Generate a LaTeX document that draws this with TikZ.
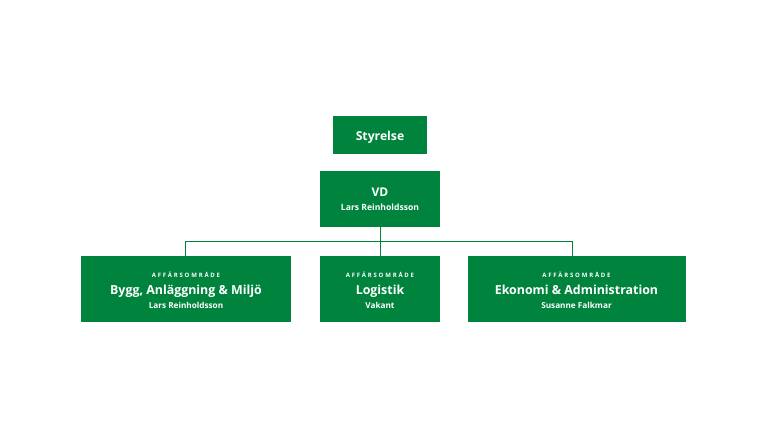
\documentclass[tikz,border=0pt]{standalone}
\usepackage{fontspec}
\setmainfont{Open Sans}
\definecolor{orggreen}{HTML}{00843D}
\begin{document}
\begin{tikzpicture}[x=1pt,y=-1pt,
  box/.style={fill=orggreen,draw=none,inner sep=0pt},
  txt/.style={anchor=base,inner sep=0pt,text=white,font=\bfseries},
  conn/.style={draw=orggreen,line width=0.9pt}]
\useasboundingbox[fill=white] (0,0) rectangle (768,432);
% boxes
\node[box,minimum width=94pt,minimum height=38pt] (sty) at (380,135) {};
\node[box,minimum width=120pt,minimum height=56pt] (vd) at (380,199) {};
\node[box,minimum width=210pt,minimum height=66pt] (b1) at (186,289) {};
\node[box,minimum width=120pt,minimum height=66pt] (b2) at (380,289) {};
\node[box,minimum width=218pt,minimum height=66pt] (b3) at (576.5,289) {};
% texts
\node[txt,font=\bfseries\fontsize{12.2}{14}\selectfont] (styt) at (380,140) {Styrelse};
\node[txt,font=\bfseries\fontsize{12}{14}\selectfont] (vdt) at (380,196.5) {VD};
\node[txt,font=\bfseries\fontsize{8.6}{10}\selectfont] (vdn) at (380,210) {Lars Reinholdsson};
\foreach \n/\x/\t/\p in {1/186/{Bygg, Anläggning \& Miljö}/{Lars Reinholdsson},
                         2/380/{Logistik}/{Vakant},
                         3/576.5/{Ekonomi \& Administration}/{Susanne Falkmar}}{
  \node[txt,font=\bfseries\fontsize{6}{7}\selectfont\addfontfeature{LetterSpace=30}] (ba\n) at (\x,277.2) {AFFÄRSOMRÅDE};
  \node[txt,font=\bfseries\fontsize{12.4}{14}\selectfont] (bt\n) at (\x,294.7) {\t};
  \node[txt,font=\bfseries\fontsize{8.2}{10}\selectfont] (bp\n) at (\x,308) {\p};
}
% connectors
\coordinate (bus) at (380,241);
\coordinate (busl) at (185,241);
\coordinate (busr) at (572.5,241);
\draw[conn] (vd.south) -- (bus);
\draw[conn] (busl) -- (busr);
\draw[conn] (busl) -- (busl |- b1.north);
\draw[conn] (bus) -- (b2.north);
\draw[conn] (busr) -- (busr |- b3.north);
\end{tikzpicture}
\end{document}
